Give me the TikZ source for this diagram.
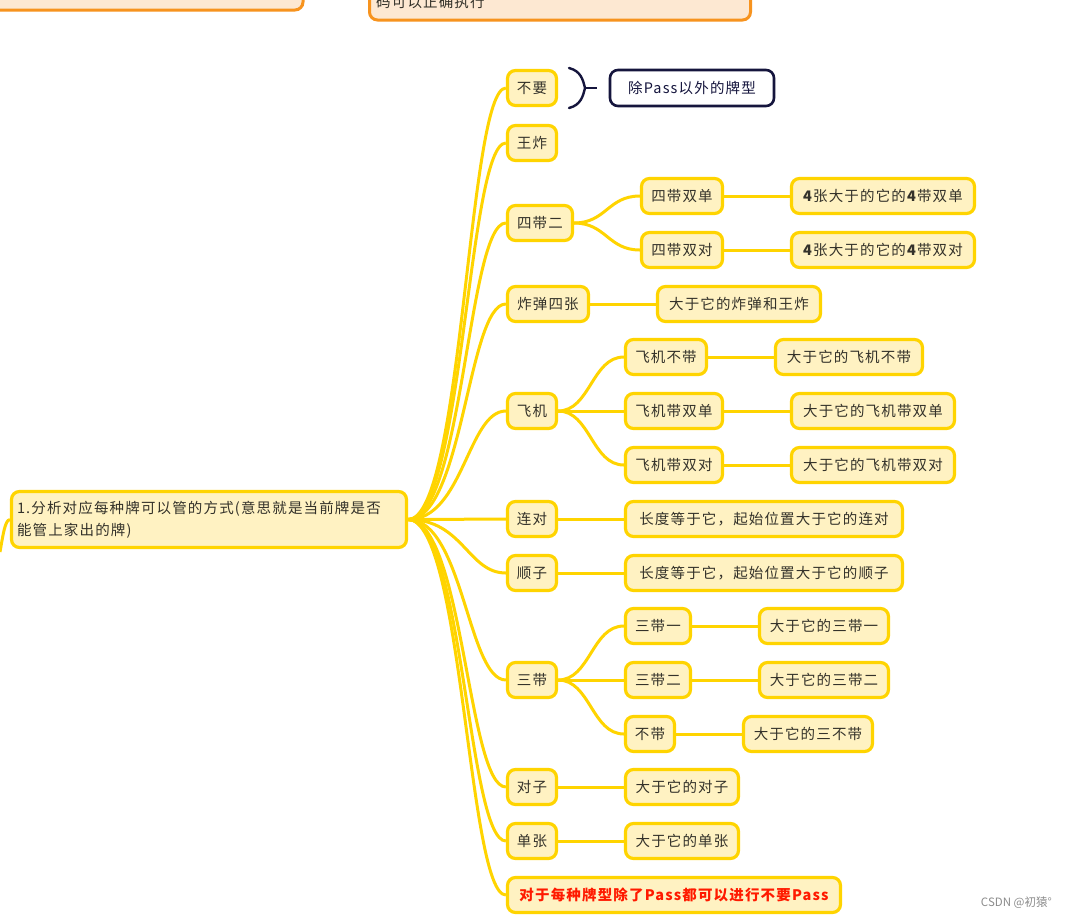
\documentclass[tikz,border=0pt]{standalone}
\usepackage{fontspec}
\usetikzlibrary{backgrounds}
\setmainfont{Noto Sans CJK SC}
\newfontfamily\cjk[LetterSpace=8]{Noto Sans CJK SC}
\newfontfamily\cjkplain{Noto Sans CJK SC}
\definecolor{ybd}{HTML}{FFD400}
\definecolor{yfill}{HTML}{FFF2C2}
\definecolor{ytext}{HTML}{34322A}
\definecolor{navy}{HTML}{15153D}
\definecolor{orbd}{HTML}{F7931E}
\definecolor{orfill}{HTML}{FDE8D2}
\definecolor{redtext}{HTML}{FF1A00}
\tikzset{
  ybox/.style={draw=ybd, fill=yfill, line width=3.2pt, rounded corners=8pt, text=ytext,
    font=\cjk\fontsize{14.5}{17}\selectfont, inner sep=0pt, minimum height=35pt},
  notebox/.style={draw=navy, fill=white, line width=2.6pt, rounded corners=8pt, text=navy,
    font=\cjk\fontsize{14.5}{17}\selectfont, inner sep=0pt, minimum height=36pt},
  obox/.style={draw=orbd, fill=orfill, line width=3pt, rounded corners=8pt, inner sep=0pt},
  conn/.style={draw=ybd, line width=3pt},
}
\begin{document}
\begin{tikzpicture}[x=1pt,y=-1pt]
\clip (0,0) rectangle (1066,919);

% partial orange boxes at the top
\node[obox, minimum width=330pt, minimum height=50pt] (topA) at (138,-15) {};
\node[obox, minimum width=381pt, minimum height=58pt] (topB) at (560,-9) {};
\node[anchor=west, text=ytext, font=\cjk\fontsize{14.5}{17}\selectfont, inner sep=0pt] (topBtext) at (376,2) {码可以正确执行};

% root
\node[ybox, minimum width=395pt, minimum height=56pt, text width=384pt, align=left,
  font=\cjk\fontsize{14.5}{22}\selectfont] (root) at (209,519.5)
  {1.分析对应每种牌可以管的方式(意思就是当前牌是否\\能管上家出的牌)};
\coordinate (rootin) at (0,552);

% level 1
\node[ybox, minimum width=49pt] (a1) at (532,88) {不要};
\node[ybox, minimum width=49pt] (a2) at (532,143) {王炸};
\node[ybox, minimum width=65pt] (a3) at (540,223) {四带二};
\node[ybox, minimum width=81pt] (a4) at (548,304) {炸弹四张};
\node[ybox, minimum width=49pt] (a5) at (532,411) {飞机};
\node[ybox, minimum width=49pt] (a6) at (532,519) {连对};
\node[ybox, minimum width=49pt] (a7) at (532,573) {顺子};
\node[ybox, minimum width=49pt] (a8) at (532,680) {三带};
\node[ybox, minimum width=49pt] (a9) at (532,787) {对子};
\node[ybox, minimum width=49pt] (a10) at (532,841) {单张};
\node[ybox, minimum width=333pt, text=redtext, font=\cjk\bfseries\fontsize{14.5}{17}\selectfont] (a11) at (674,895) {对于每种牌型除了Pass都可以进行不要Pass};

% level 2
\node[ybox, minimum width=81pt] (b31) at (682,196) {四带双单};
\node[ybox, minimum width=81pt] (b32) at (682,250) {四带双对};
\node[ybox, minimum width=183pt] (c31) at (883,196) {\textbf{4}张大于的它的\textbf{4}带双单};
\node[ybox, minimum width=183pt] (c32) at (883,250) {\textbf{4}张大于的它的\textbf{4}带双对};
\node[ybox, minimum width=163pt] (c4) at (739,304) {大于它的炸弹和王炸};
\node[ybox, minimum width=81pt] (b51) at (666,357) {飞机不带};
\node[ybox, minimum width=97pt] (b52) at (674,411) {飞机带双单};
\node[ybox, minimum width=97pt] (b53) at (674,465) {飞机带双对};
\node[ybox, minimum width=147pt] (c51) at (849,357) {大于它的飞机不带};
\node[ybox, minimum width=163pt] (c52) at (873,411) {大于它的飞机带双单};
\node[ybox, minimum width=163pt] (c53) at (873,465) {大于它的飞机带双对};
\node[ybox, minimum width=277pt] (c6) at (764,519) {长度等于它，起始位置大于它的连对};
\node[ybox, minimum width=277pt] (c7) at (764,573) {长度等于它，起始位置大于它的顺子};
\node[ybox, minimum width=65pt] (b81) at (658,626) {三带一};
\node[ybox, minimum width=65pt] (b82) at (658,680) {三带二};
\node[ybox, minimum width=49pt] (b83) at (650,734) {不带};
\node[ybox, minimum width=129pt] (c81) at (824,626) {大于它的三带一};
\node[ybox, minimum width=129pt] (c82) at (824,680) {大于它的三带二};
\node[ybox, minimum width=129pt] (c83) at (808,734) {大于它的三不带};
\node[ybox, minimum width=113pt] (c9) at (682,787) {大于它的对子};
\node[ybox, minimum width=113pt] (c10) at (682,841) {大于它的单张};

% note with brace
\node[notebox, minimum width=164pt] (note) at (692,88) {除Pass以外的牌型};
\coordinate (brtop) at (569,68);
\coordinate (brtip) at (585,88);
\coordinate (brbot) at (569,108);
\coordinate (dashend) at (597,88);
\draw[navy, line width=2.4pt, line cap=round] (brtop) .. controls (581,71) and (583,80) .. (brtip)
  .. controls (583,96) and (581,105) .. (brbot);
\draw[navy, line width=2.4pt] (brtip) -- (dashend);

% connectors, behind the nodes
\begin{pgfonlayer}{background}
\fill[white] (0,0) rectangle (1066,919);
\foreach \n in {a1,a2,a3,a4,a5,a6,a7,a8,a9,a10,a11}{
  \draw[conn] (root.east) .. controls +(55,0) and +(-38,0) .. (\n.west);
}
\draw[conn] (rootin) .. controls (3,535) and (5,520) .. (root.west);
\foreach \p/\c in {a3/b31,a3/b32,a5/b51,a5/b52,a5/b53,a8/b81,a8/b82,a8/b83}{
  \draw[conn] (\p.east) .. controls +(32,0) and +(-32,0) .. (\c.west);
}
\foreach \p/\c in {a4/c4,a6/c6,a7/c7,a9/c9,a10/c10,b31/c31,b32/c32,b51/c51,b52/c52,b53/c53,b81/c81,b82/c82,b83/c83}{
  \draw[conn] (\p.east) -- (\c.west);
}
\end{pgfonlayer}

% watermark
\node[anchor=east, text=black!45, font=\cjkplain\fontsize{11.5}{14}\selectfont, inner sep=0pt] (wm) at (1052,903) {CSDN @初猿°};
\end{tikzpicture}
\end{document}
